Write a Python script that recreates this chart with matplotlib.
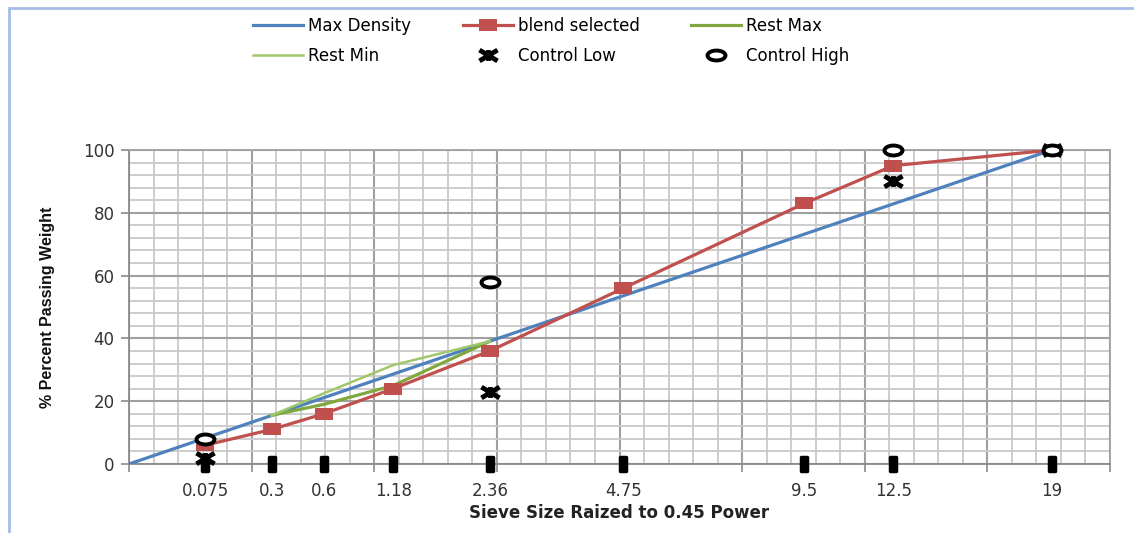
import numpy as np
import matplotlib
matplotlib.use("Agg")
import matplotlib.pyplot as plt
from matplotlib.markers import MarkerStyle
from matplotlib.path import Path
from matplotlib.patches import Rectangle

# sieve sizes (mm) and values
sieves = [0.075, 0.3, 0.6, 1.18, 2.36, 4.75, 9.5, 12.5, 19]
sieve_labels = ["0.075", "0.3", "0.6", "1.18", "2.36", "4.75", "9.5", "12.5", "19"]
sieve_base = [0, 0, 0, 0, 0, 0, 0, 0, 0]

maxd_sieves = [0, 19]
maxd_values = [0, 100]

blend_values = [6, 11, 16, 24, 36, 56, 83, 95, 100]

rest_sieves = [0.3, 0.6, 1.18, 2.36]
rest_max = [15.5, 19, 25, 39.1]
rest_min = [15.5, 22.5, 31.5, 39.1]

control_sieves = [0.075, 2.36, 12.5, 19]
control_low = [2, 23, 90, 100]
control_high = [8, 58, 100, 100]

POW = 0.45


def px(s):
    return np.power(np.asarray(s, dtype=float), POW)


# the original picture is stretched sideways, so the markers are wide
circ = Path.unit_circle()
ellipse = Path(circ.vertices * [1, 0.55], circ.codes)
rect = Path([(-1, -0.63), (1, -0.63), (1, 0.63), (-1, 0.63), (-1, -0.63)],
            [Path.MOVETO, Path.LINETO, Path.LINETO, Path.LINETO, Path.CLOSEPOLY])
star = Path([(-1, -0.6), (1, 0.6), (-1, 0.6), (1, -0.6), (0, -0.6), (0, 0.6)],
            [Path.MOVETO, Path.LINETO, Path.MOVETO, Path.LINETO, Path.MOVETO, Path.LINETO])
stick = Path([(-0.4, -1), (0.4, -1), (0.4, 1), (-0.4, 1), (-0.4, -1)],
             [Path.MOVETO, Path.LINETO, Path.LINETO, Path.LINETO, Path.CLOSEPOLY])

plt.rcParams["font.family"] = ["DejaVu Sans"]

fig = plt.figure(figsize=(11.34, 5.33), dpi=100)
ax = fig.add_axes([129 / 1134, 1 - 464 / 533, (1110 - 129) / 1134, (464 - 150) / 533])

# chart area border (light blue)
fig.patches.append(Rectangle((9 / 1134, -0.1), 1.2, 1.1 - 8 / 533, transform=fig.transFigure,
                             fill=False, edgecolor="#a7bde8", lw=2))

ax.set_xlim(0, 4)
ax.set_ylim(0, 100)
ax.set_xticks(np.arange(0, 4.01, 0.5))
ax.set_xticks(np.arange(0, 4.01, 0.1), minor=True)
ax.set_yticks(np.arange(0, 101, 20))
ax.set_yticks(np.arange(0, 101, 4), minor=True)
ax.set_xticklabels([])
ax.grid(which="minor", color="#c9c9c9", lw=1.3)
ax.grid(which="major", color="#a0a0a0", lw=1.5)
ax.set_axisbelow(True)
ax.tick_params(axis="x", which="major", length=5.5, color="#8a8a8a", width=1.2)
ax.tick_params(axis="y", which="major", length=5.5, color="#8a8a8a", width=1.2,
               labelsize=12, labelcolor="#333333", pad=5)
ax.tick_params(which="minor", length=0)
for sp in ax.spines.values():
    sp.set_color("#a0a0a0")
    sp.set_linewidth(1.3)
ax.spines["left"].set_color("#8a8a8a")
ax.spines["bottom"].set_color("#8a8a8a")

l_md, = ax.plot(px(maxd_sieves), maxd_values, color="#4f81bd", lw=2.3, label="Max Density", zorder=3)
l_bl, = ax.plot(px(sieves), blend_values, color="#c0504d", lw=2.3, marker=rect, ms=13.5,
                mew=0, label="blend selected", zorder=4)
l_rmax, = ax.plot(px(rest_sieves), rest_max, color="#80a83f", lw=2.3, label="Rest Max", zorder=3)
l_rmin, = ax.plot(px(rest_sieves), rest_min, color="#a0c86a", lw=1.8, label="Rest Min", zorder=3)

l_lo, = ax.plot(px(control_sieves), control_low, ls="none", marker=star, ms=13, mew=3.5,
                color="black", label="Control Low", zorder=5, clip_on=False)
l_hi, = ax.plot(px(control_sieves), control_high, ls="none", marker=ellipse, ms=13, mew=2.8,
                mfc="white", mec="black", label="Control High", zorder=5, clip_on=False)

bar = MarkerStyle(stick, joinstyle="round")
ax.plot(px(sieves), sieve_base, ls="none", marker=bar, ms=10, mew=2.5, color="black",
        zorder=6, clip_on=False)

for s, lab in zip(sieves, sieve_labels):
    ax.text(px(s), -0.085, lab, transform=ax.get_xaxis_transform(), ha="center", va="center",
            fontsize=12, color="#333333")

ax.set_xlabel("Sieve Size Raized to 0.45 Power", fontsize=12, fontweight="bold",
              color="#222222", labelpad=20)
ax.set_ylabel("% Percent Passing Weight", fontsize=11.5, fontweight="bold", color="#111111",
              family=["Liberation Sans Narrow", "Liberation Sans"], labelpad=20)

fig.legend([l_md, l_rmin, l_bl, l_lo, l_rmax, l_hi],
           ["Max Density", "Rest Min", "blend selected", "Control Low", "Rest Max", "Control High"],
           ncol=3, loc="upper left", bbox_to_anchor=(253 / 1134, 1 - 17 / 533), frameon=False,
           fontsize=12, handlelength=3.0, handletextpad=0.3, columnspacing=3.1,
           labelspacing=0.72, borderpad=0, borderaxespad=0)

fig.savefig("out.png", dpi=100)
